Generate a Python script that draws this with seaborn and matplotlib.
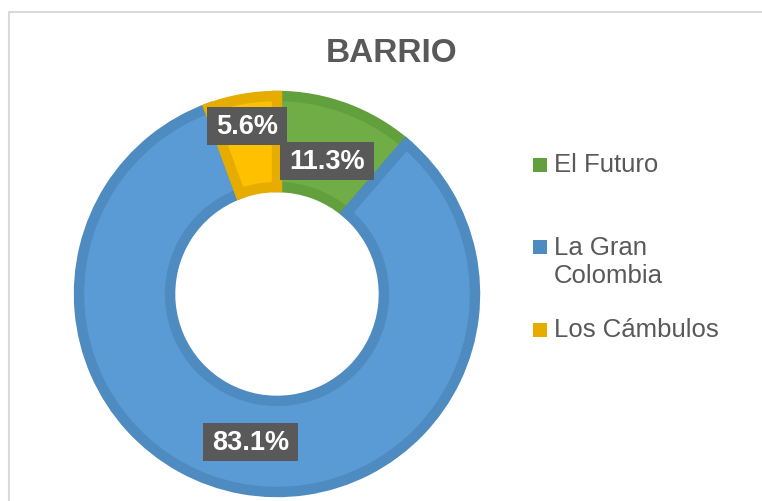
"""
Gráfico de anillo (donut) con la distribución por barrio.
"""

import numpy as np
import matplotlib
matplotlib.use("Agg")
import matplotlib.pyplot as plt
from matplotlib.patches import Rectangle
from matplotlib.lines import Line2D
from matplotlib.transforms import IdentityTransform
import seaborn as sns

# datos
barrios = ["El Futuro", "La Gran\nColombia", "Los Cámbulos"]
porcentajes = [11.3, 83.1, 5.6]
etiquetas = ["11.3%", "83.1%", "5.6%"]

colores = ["#70AD47", "#5B9BD5", "#FFC000"]
bordes = ["#62A03D", "#4E8BC1", "#E6AD00"]

sns.set_theme(style="white")
plt.rcParams['font.family'] = ['Liberation Sans', 'DejaVu Sans']

W, H = 762, 501
fig = plt.figure(figsize=(W / 100, H / 100), dpi=100)

# eje del anillo: centro (277, 294) px, radio visible 203 px
cx, cy, R = 277, 294, 203
ax = fig.add_axes([(cx - R) / W, (H - cy - R) / H, 2 * R / W, 2 * R / H])
lim = R / 198

wedges, _ = ax.pie(porcentajes, colors=colores, startangle=90, counterclock=False,
                   radius=1, wedgeprops=dict(width=0.46, linewidth=7.5),
                   frame=False)
ax.set_xlim(-lim, lim)
ax.set_ylim(-lim, lim)
ax.set_aspect("equal")
ax.axis("off")
for w, ec in zip(wedges, bordes):
    w.set_edgecolor(ec)

# etiquetas de datos en cajas gris oscuro
label_r = [0.727, 0.747, 0.87]
textos = []
for w, txt, r in zip(wedges, etiquetas, label_r):
    ang = np.deg2rad((w.theta1 + w.theta2) / 2)
    t = ax.text(r * np.cos(ang), r * np.sin(ang), txt, ha="center", va="center_baseline",
                fontsize=19.5, fontweight="bold", color="white", zorder=5)
    textos.append(t)

fig.canvas.draw()
for t in textos:
    bb = t.get_window_extent()
    xc, yc = (bb.x0 + bb.x1) / 2, (bb.y0 + bb.y1) / 2
    ancho, alto = bb.width + 18, 38
    ax.add_patch(Rectangle((xc - ancho / 2, yc - alto / 2 + 1), ancho, alto,
                           transform=IdentityTransform(), fc="#595959", ec="none",
                           zorder=4, clip_on=False))

# título
fig.text(392 / W, 1 - 54 / H, "BARRIO", ha="center", va="center",
         fontsize=24, fontweight="bold", color="#595959")

# leyenda a la derecha
ley_y = [165, 262, 330]
cuadro_y = [165, 247, 330]
for nombre, col, yt, yc in zip(barrios, bordes, ley_y, cuadro_y):
    fig.patches.append(Rectangle((533 / W, 1 - (yc + 7) / H), 14 / W, 14 / H,
                                 transform=fig.transFigure, fc=col, ec="none"))
    fig.text(554 / W, 1 - yt / H, nombre, ha="left", va="center",
             fontsize=18.5, color="#595959", linespacing=1.2)

# marco del área del gráfico (solo arriba e izquierda visibles)
fig.add_artist(Line2D([9 / W, 1], [1 - 12 / H, 1 - 12 / H], transform=fig.transFigure,
                      color="#D9D9D9", lw=1.5))
fig.add_artist(Line2D([9 / W, 9 / W], [0, 1 - 12 / H], transform=fig.transFigure,
                      color="#D9D9D9", lw=1.5))

fig.savefig("out.png", dpi=100)
